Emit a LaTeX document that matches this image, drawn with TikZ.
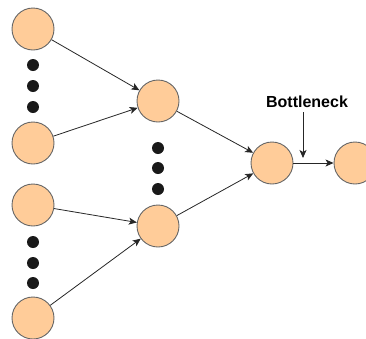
\documentclass[tikz,border=0pt]{standalone}
\usepackage{fontspec}
\setmainfont{Liberation Sans}
\usetikzlibrary{arrows.meta}
\definecolor{nodefill}{HTML}{FFCC99}
\definecolor{nodeline}{HTML}{666666}
\tikzset{
  neuron/.style={circle,draw=nodeline,fill=nodefill,line width=0.9pt,minimum size=42pt,inner sep=0pt},
  blackdot/.style={circle,fill=black!90,minimum size=12pt,inner sep=0pt},
  link/.style={draw=black!85,line width=0.8pt,-{Stealth[length=8pt,width=7pt,inset=2pt]}},
  lbl/.style={font=\bfseries\fontsize{16}{19}\selectfont,inner sep=0pt}
}
\begin{document}
\begin{tikzpicture}[x=1pt,y=-1pt]
\useasboundingbox (0,0) rectangle (366,338);
\clip (0,0) rectangle (366,338);
\node[neuron] (l1) at (33,29) {};
\node[neuron] (l2) at (33,143) {};
\node[neuron] (l3) at (33,205) {};
\node[neuron] (l4) at (33,318) {};
\node[neuron] (m1) at (158,101) {};
\node[neuron] (m2) at (158,226) {};
\node[neuron] (h) at (272,163) {};
\node[neuron] (r) at (355,163) {};
\node[blackdot] (d1) at (33,65) {};
\node[blackdot] (d2) at (33,86) {};
\node[blackdot] (d3) at (33,107) {};
\node[blackdot] (d4) at (33,242) {};
\node[blackdot] (d5) at (33,263) {};
\node[blackdot] (d6) at (33,283) {};
\node[blackdot] (d7) at (158,148) {};
\node[blackdot] (d8) at (158,168) {};
\node[blackdot] (d9) at (158,189) {};
\node[lbl] (bt) at (307,102) {Bottleneck};
\coordinate (bs) at (303,112);
\coordinate (be) at (303,158);
\draw[link] (l1) -- (m1);
\draw[link] (l2) -- (m1);
\draw[link] (l3) -- (m2);
\draw[link] (l4) -- (m2);
\draw[link] (m1) -- (h);
\draw[link] (m2) -- (h);
\draw[link] (h) -- (r);
\draw[link] (bs) -- (be);
\end{tikzpicture}
\end{document}
